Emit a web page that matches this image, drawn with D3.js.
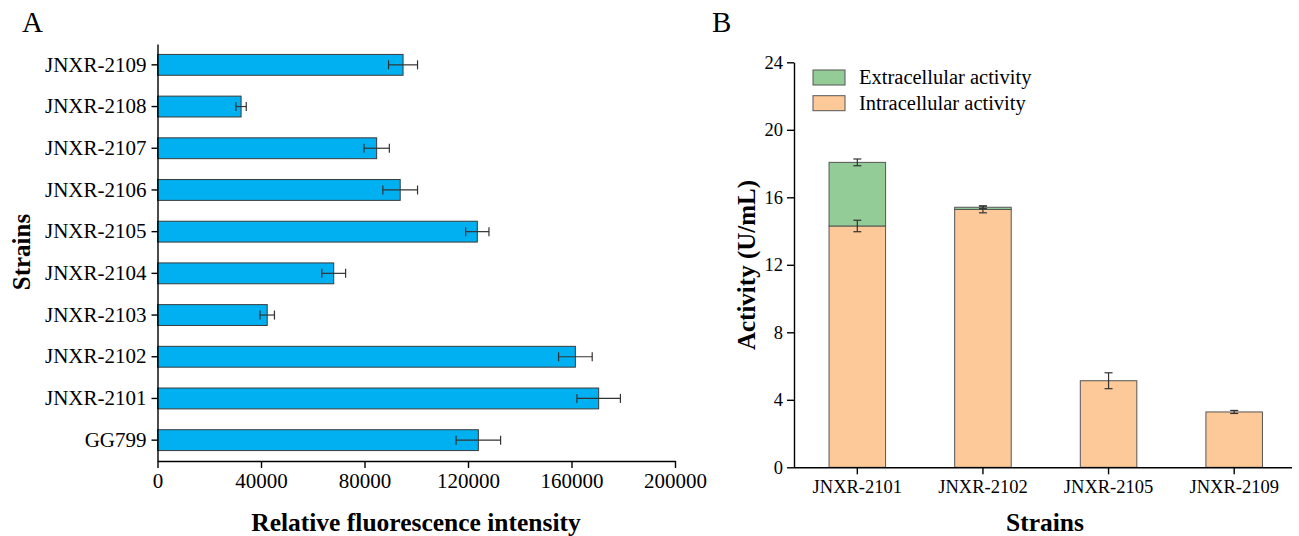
<!DOCTYPE html>
<html>
<head>
<meta charset="utf-8">
<script src="https://cdn.jsdelivr.net/npm/d3@7"></script>
<style>
  body { margin: 0; background: #fff; }
  svg { display: block; }
  svg text { font-family: "Liberation Serif", "Times New Roman", serif; fill: #000; }
  .axis path, .axis line { stroke: #000; stroke-width: 1.4px; }
</style>
</head>
<body>
<svg id="chart" width="1299" height="536"></svg>
<script>
// panel A data (bottom to top)
const strainsA = ["GG799", "JNXR-2101", "JNXR-2102", "JNXR-2103", "JNXR-2104",
    "JNXR-2105", "JNXR-2106", "JNXR-2107", "JNXR-2108", "JNXR-2109"];
const fluorescence = [124000, 170500, 161500, 42400, 68100, 123600, 93800, 84700, 32300, 94900];
const fluorescenceErr = [8600, 8400, 6500, 2800, 4600, 4500, 6700, 4900, 2000, 5600];
const ticksA = [0, 40000, 80000, 120000, 160000, 200000];

// panel B data
const strainsB = ["JNXR-2101", "JNXR-2102", "JNXR-2105", "JNXR-2109"];
const intracellular = [14.30, 15.28, 5.13, 3.28];
const intracellularErr = [0.34, 0.2, 0.47, 0.09];
const extracellular = [3.77, 0.13, 0, 0];
const totalErr = [0.2, 0.08, 0, 0];
const ticksB = [0, 4, 8, 12, 16, 20, 24];
const legendLabels = ["Extracellular activity", "Intracellular activity"];

const svg = d3.select("#chart");
const serif = '"Liberation Serif", "Times New Roman", serif';

// ---------- panel A ----------
const xA = d3.scaleLinear().domain([0, 200000]).range([157.5, 675]);
const yA = d3.scaleBand()
    .domain(strainsA.slice().reverse())
    .range([44, 461])
    .paddingInner(0.5)
    .paddingOuter(0.25);

const gA = svg.append("g");

gA.selectAll(".barA")
    .data(strainsA)
    .enter()
    .append("rect")
    .attr("class", "barA")
    .attr("x", xA(0))
    .attr("y", d => yA(d))
    .attr("width", (d, i) => xA(fluorescence[i]) - xA(0))
    .attr("height", yA.bandwidth())
    .attr("fill", "#00b0f0")
    .attr("stroke", "#3a3a3a")
    .attr("stroke-width", 1);

const errA = gA.selectAll(".errA")
    .data(strainsA)
    .enter()
    .append("g")
    .attr("class", "errA")
    .attr("stroke", "#333")
    .attr("stroke-width", 1.2);
errA.append("line")
    .attr("x1", (d, i) => xA(fluorescence[i] - fluorescenceErr[i]))
    .attr("x2", (d, i) => xA(fluorescence[i] + fluorescenceErr[i]))
    .attr("y1", d => yA(d) + yA.bandwidth() / 2)
    .attr("y2", d => yA(d) + yA.bandwidth() / 2);
[-1, 1].forEach(s => {
    errA.append("line")
        .attr("x1", (d, i) => xA(fluorescence[i] + s * fluorescenceErr[i]))
        .attr("x2", (d, i) => xA(fluorescence[i] + s * fluorescenceErr[i]))
        .attr("y1", d => yA(d) + yA.bandwidth() / 2 - 4.5)
        .attr("y2", d => yA(d) + yA.bandwidth() / 2 + 4.5);
});

gA.append("g")
    .attr("class", "axis")
    .attr("transform", "translate(0,461)")
    .call(d3.axisBottom(xA).tickValues(ticksA).tickFormat(d3.format("d")).tickSizeInner(7).tickSizeOuter(0).tickPadding(5))
    .selectAll("text")
    .style("font-family", serif)
    .style("font-size", "21px");

gA.append("g")
    .attr("class", "axis")
    .attr("transform", "translate(157.5,0)")
    .call(d3.axisLeft(yA).tickSizeInner(6).tickSizeOuter(0).tickPadding(5))
    .selectAll("text")
    .style("font-family", serif)
    .style("font-size", "21px");

gA.append("text")
    .attr("x", 416)
    .attr("y", 531)
    .attr("text-anchor", "middle")
    .style("font-size", "25.5px")
    .style("font-weight", "bold")
    .text("Relative fluorescence intensity");

gA.append("text")
    .attr("transform", "translate(30,252) rotate(-90)")
    .attr("text-anchor", "middle")
    .style("font-size", "25px")
    .style("font-weight", "bold")
    .text("Strains");

svg.append("text")
    .attr("x", 22)
    .attr("y", 32)
    .style("font-size", "29px")
    .text("A");

// ---------- panel B ----------
const xB = d3.scaleBand().domain(strainsB).range([794.5, 1297]).paddingInner(0.55).paddingOuter(0.275);
const yB = d3.scaleLinear().domain([0, 24]).range([467.3, 62.3]);
const totals = intracellular.map((v, i) => v + extracellular[i]);

const gB = svg.append("g");

gB.selectAll(".intra")
    .data(strainsB)
    .enter()
    .append("rect")
    .attr("class", "intra")
    .attr("x", d => xB(d))
    .attr("y", (d, i) => yB(intracellular[i]))
    .attr("width", xB.bandwidth())
    .attr("height", (d, i) => yB(0) - yB(intracellular[i]))
    .attr("fill", "#fec998")
    .attr("stroke", "#555")
    .attr("stroke-width", 1);

gB.selectAll(".extra")
    .data(strainsB.filter((d, i) => extracellular[i] > 0))
    .enter()
    .append("rect")
    .attr("class", "extra")
    .attr("x", d => xB(d))
    .attr("y", d => yB(totals[strainsB.indexOf(d)]))
    .attr("width", xB.bandwidth())
    .attr("height", d => {
        const i = strainsB.indexOf(d);
        return yB(intracellular[i]) - yB(totals[i]);
    })
    .attr("fill", "#93cc97")
    .attr("stroke", "#555")
    .attr("stroke-width", 1);

function errBarsB(values, errs) {
    const items = strainsB.map((d, i) => ({ s: d, v: values[i], e: errs[i] })).filter(o => o.e > 0);
    const g = gB.selectAll(null)
        .data(items)
        .enter()
        .append("g")
        .attr("stroke", "#333")
        .attr("stroke-width", 1.2);
    const cx = o => xB(o.s) + xB.bandwidth() / 2;
    g.append("line")
        .attr("x1", cx).attr("x2", cx)
        .attr("y1", o => yB(o.v - o.e)).attr("y2", o => yB(o.v + o.e));
    [-1, 1].forEach(s => {
        g.append("line")
            .attr("x1", o => cx(o) - 4).attr("x2", o => cx(o) + 4)
            .attr("y1", o => yB(o.v + s * o.e)).attr("y2", o => yB(o.v + s * o.e));
    });
}
errBarsB(intracellular, intracellularErr);
errBarsB(totals, totalErr);

const xAxisB = gB.append("g")
    .attr("class", "axis")
    .attr("transform", "translate(0,467.3)")
    .call(d3.axisBottom(xB).tickSizeInner(7).tickSizeOuter(0).tickPadding(6));
xAxisB.select(".domain").attr("d", "M794,0.5H1292");
xAxisB.selectAll("text").style("font-family", serif).style("font-size", "18.5px");

gB.append("g")
    .attr("class", "axis")
    .attr("transform", "translate(794,0)")
    .call(d3.axisLeft(yB).tickValues(ticksB).tickSizeInner(7).tickSizeOuter(0).tickPadding(4))
    .selectAll("text")
    .style("font-family", serif)
    .style("font-size", "18.5px");

gB.append("text")
    .attr("x", 1045)
    .attr("y", 531)
    .attr("text-anchor", "middle")
    .style("font-size", "25.5px")
    .style("font-weight", "bold")
    .text("Strains");

gB.append("text")
    .attr("transform", "translate(755,265) rotate(-90)")
    .attr("text-anchor", "middle")
    .style("font-size", "25px")
    .style("font-weight", "bold")
    .text("Activity (U/mL)");

const legendColors = ["#93cc97", "#fec998"];
const legend = gB.selectAll(".legend")
    .data(legendLabels)
    .enter()
    .append("g")
    .attr("class", "legend")
    .attr("transform", (d, i) => `translate(813,${70 + i * 25.7})`);
legend.append("rect")
    .attr("width", 32)
    .attr("height", 15)
    .attr("fill", (d, i) => legendColors[i])
    .attr("stroke", "#555")
    .attr("stroke-width", 1);
legend.append("text")
    .attr("x", 46)
    .attr("y", 14)
    .style("font-size", "20.5px")
    .text(d => d);

svg.append("text")
    .attr("x", 712)
    .attr("y", 32)
    .style("font-size", "29px")
    .text("B");
</script>
</body>
</html>
